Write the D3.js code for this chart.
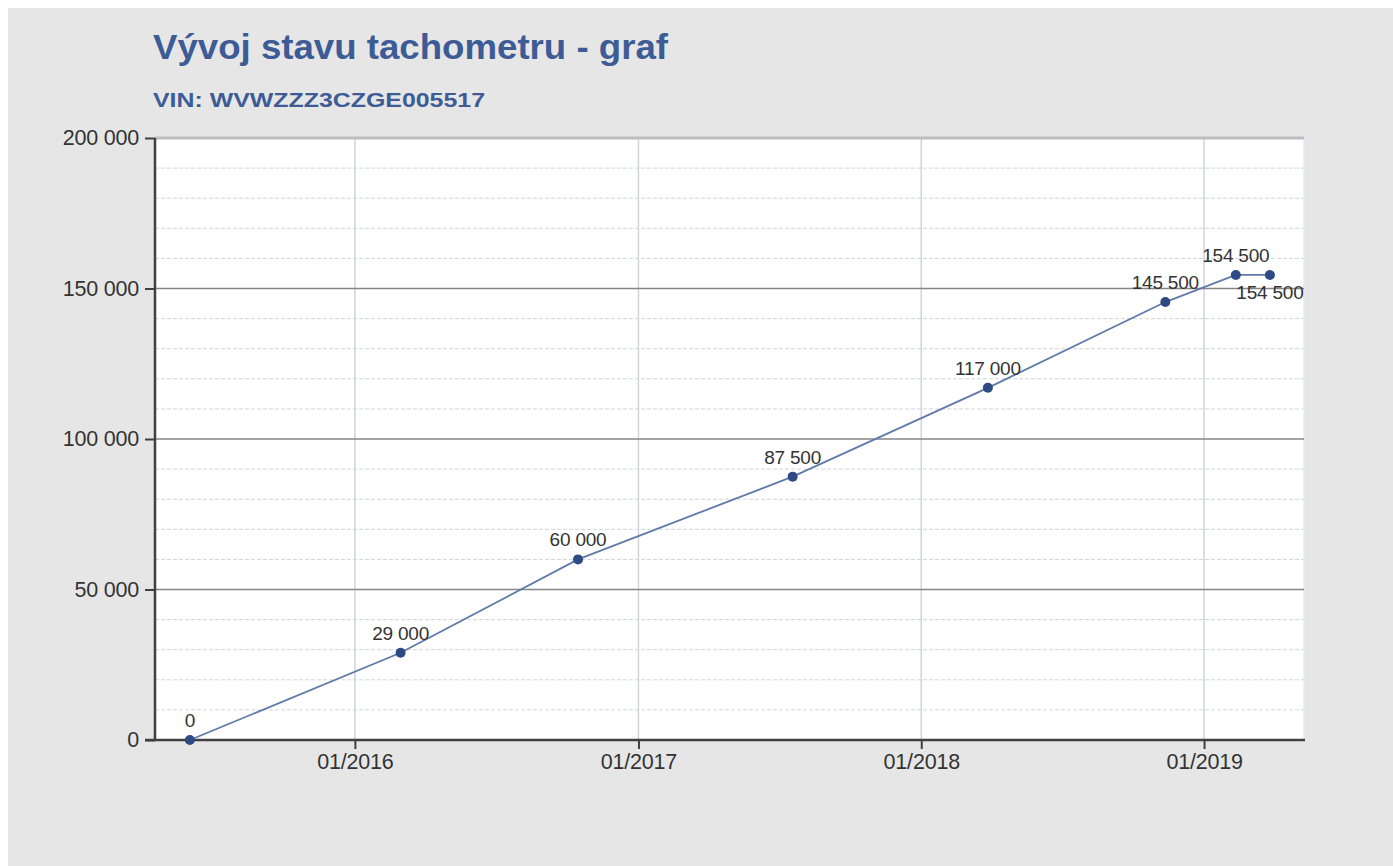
<!DOCTYPE html>
<html>
<head>
<meta charset="utf-8">
<script src="https://cdn.jsdelivr.net/npm/d3@7"></script>
<style>
  html, body { margin: 0; padding: 0; background: #ffffff; }
  svg { display: block; }
</style>
</head>
<body>
<svg id="chart" width="1393" height="866"></svg>
<script>
// ---- data ----
const title = "Vývoj stavu tachometru - graf";
const subtitle = "VIN: WVWZZZ3CZGE005517";
const dates = ["2015-06-02", "2016-02-29", "2016-10-15", "2017-07-19", "2018-03-28", "2018-11-12", "2019-02-11", "2019-03-27"];
const values = [0, 29000, 60000, 87500, 117000, 145500, 154500, 154500];
const yTicks = [0, 50000, 100000, 150000, 200000];
const xTickDates = ["2016-01-01", "2017-01-01", "2018-01-01", "2019-01-01"];
const xDomain = ["2015-04-18", "2019-05-10"];

const parse = d3.timeParse("%Y-%m-%d");
const data = dates.map((d, i) => ({ date: parse(d), value: values[i] }));

const loc = d3.formatLocale({ decimal: ",", thousands: "\u00a0", grouping: [3], currency: ["", " Kč"] });
const fmt = loc.format(",d");
const dateFmt = d3.timeFormat("%m/%Y");
const FONT = "Liberation Sans, Arial, sans-serif";

const svg = d3.select("#chart");
const W = 1393, H = 866;

// background panel
svg.append("rect").attr("x", 8).attr("y", 8).attr("width", W - 8).attr("height", H - 8).attr("fill", "#e6e6e6");

const plot = { left: 155, right: 1304, top: 138, bottom: 740 };

const x = d3.scaleTime().domain(xDomain.map(parse)).range([plot.left, plot.right]);
const y = d3.scaleLinear().domain([0, 200000]).range([plot.bottom, plot.top]);

// plot background
svg.append("rect").attr("x", plot.left).attr("y", plot.top)
  .attr("width", plot.right - plot.left).attr("height", plot.bottom - plot.top).attr("fill", "#ffffff");

// minor dashed grid
const minor = d3.range(10000, 200000, 10000).filter(v => v % 50000 !== 0);
svg.append("g").selectAll("line").data(minor).join("line")
  .attr("x1", plot.left).attr("x2", plot.right)
  .attr("y1", d => y(d)).attr("y2", d => y(d))
  .attr("stroke", "#d0d5dc").attr("stroke-width", 1).attr("stroke-dasharray", "4,2");

// vertical grid
svg.append("g").selectAll("line").data(xTickDates.map(parse)).join("line")
  .attr("x1", d => x(d)).attr("x2", d => x(d))
  .attr("y1", plot.top).attr("y2", plot.bottom)
  .attr("stroke", "#d0d4da").attr("stroke-width", 1.5);

// right edge light line
svg.append("line").attr("x1", plot.right).attr("x2", plot.right)
  .attr("y1", plot.top).attr("y2", plot.bottom).attr("stroke", "#e4ecf4").attr("stroke-width", 1.5);

// major grid
svg.append("g").selectAll("line").data(yTicks.filter(v => v > 0 && v < 200000)).join("line")
  .attr("x1", plot.left).attr("x2", plot.right)
  .attr("y1", d => y(d)).attr("y2", d => y(d))
  .attr("stroke", "#858585").attr("stroke-width", 1.5);
// top border
svg.append("line").attr("x1", plot.left).attr("x2", plot.right)
  .attr("y1", y(200000)).attr("y2", y(200000)).attr("stroke", "#bdbdbd").attr("stroke-width", 3);

// y axis
const yAxis = d3.axisLeft(y).tickValues(yTicks).tickFormat(fmt).tickSize(10).tickPadding(6);
const gy = svg.append("g").attr("transform", `translate(${plot.left},0)`).call(yAxis);
gy.select(".domain").attr("stroke", "#404040").attr("stroke-width", 2.5).attr("d", `M0,${plot.top}V${plot.bottom}`);
gy.selectAll(".tick line").attr("stroke", "#404040").attr("stroke-width", 2);
gy.selectAll(".tick text").attr("font-family", FONT).attr("font-size", 21.5)
  .attr("fill", "#333333").attr("letter-spacing", "-0.2px");

// x axis
const xAxis = d3.axisBottom(x).tickValues(xTickDates.map(parse)).tickFormat(dateFmt).tickSize(9).tickPadding(5);
const gx = svg.append("g").attr("transform", `translate(0,${plot.bottom})`).call(xAxis);
gx.select(".domain").attr("stroke", "#404040").attr("stroke-width", 2.5).attr("d", `M${plot.left - 10},0H${plot.right + 1}`);
gx.selectAll(".tick line").attr("stroke", "#404040").attr("stroke-width", 2);
gx.selectAll(".tick text").attr("font-family", FONT).attr("font-size", 21.5)
  .attr("fill", "#333333").attr("letter-spacing", "-0.2px");

// line
const line = d3.line().x(d => x(d.date)).y(d => y(d.value));
svg.append("path").datum(data).attr("d", line)
  .attr("fill", "none").attr("stroke", "#5f7aaa").attr("stroke-width", 1.8);

// markers
svg.append("g").selectAll("circle").data(data).join("circle")
  .attr("cx", d => x(d.date)).attr("cy", d => y(d.value)).attr("r", 5)
  .attr("fill", "#2e4a84");

// point labels (below when repeating previous value)
svg.append("g").selectAll("text").data(data).join("text")
  .attr("x", d => x(d.date))
  .attr("y", (d, i) => (i > 0 && values[i - 1] === d.value) ? y(d.value) + 24 : y(d.value) - 13)
  .attr("text-anchor", "middle")
  .attr("font-family", FONT).attr("font-size", 19)
  .attr("fill", "#333333").attr("letter-spacing", "-0.2px")
  .text(d => fmt(d.value));

// titles
svg.append("text").attr("x", 153).attr("y", 59)
  .attr("font-family", FONT).attr("font-weight", "bold").attr("font-size", 35)
  .attr("fill", "#3d5c96").attr("textLength", 515).attr("lengthAdjust", "spacingAndGlyphs")
  .text(title);
svg.append("text").attr("x", 153).attr("y", 107)
  .attr("font-family", FONT).attr("font-weight", "bold").attr("font-size", 20)
  .attr("fill", "#3d5c96").attr("textLength", 332).attr("lengthAdjust", "spacingAndGlyphs")
  .text(subtitle);
</script>
</body>
</html>
